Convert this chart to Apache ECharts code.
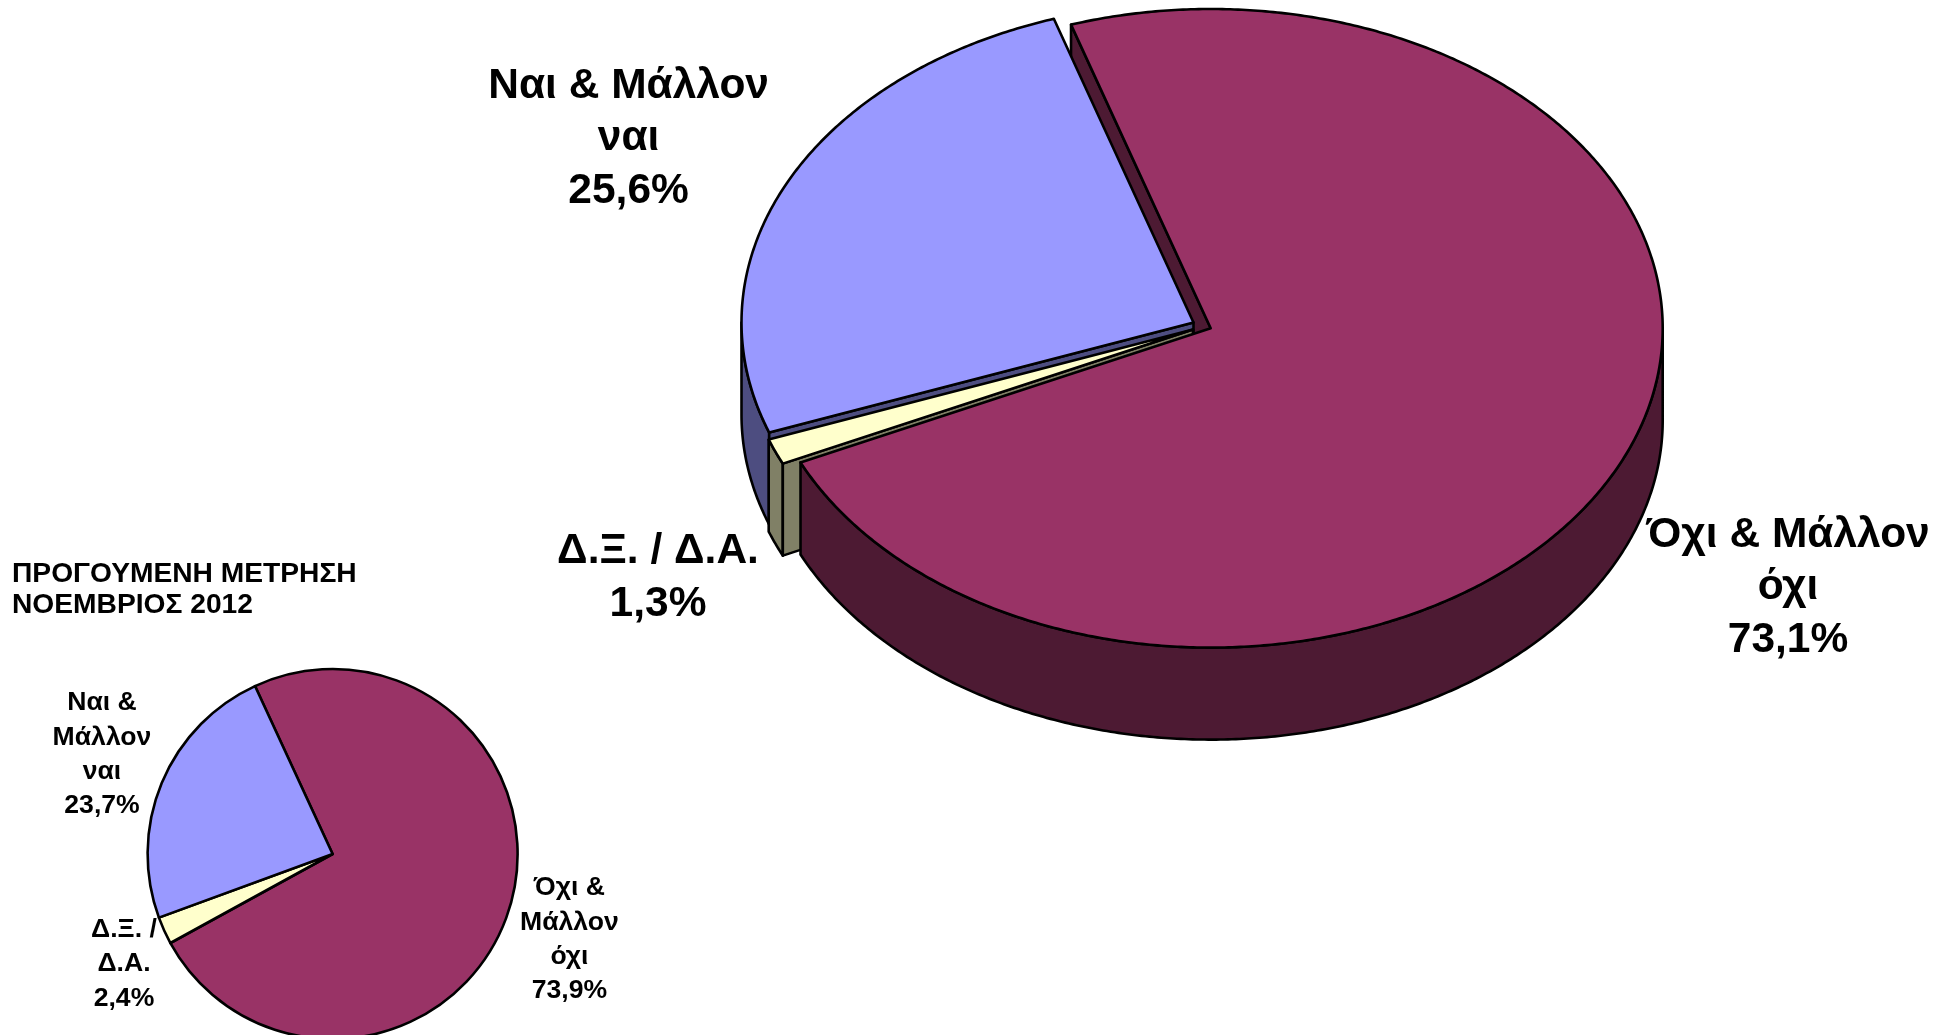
<!DOCTYPE html>
<html>
<head>
<meta charset="utf-8">
<title>Pie</title>
<style>html,body{margin:0;padding:0;background:#fff}#c{width:1948px;height:1035px}</style>
<script src="https://cdn.jsdelivr.net/npm/echarts@6/dist/echarts.min.js"></script>
</head>
<body>
<div id="c"></div>
<script>
// ---- data ----
const categories = ['Όχι & Μάλλον όχι', 'Δ.Ξ. / Δ.Α.', 'Ναι & Μάλλον ναι'];
const currentValues = [73.1, 1.3, 25.6];
const previousValues = [73.9, 2.4, 23.7];
const currentLabels = ['Όχι & Μάλλον\nόχι', 'Δ.Ξ. / Δ.Α.', 'Ναι & Μάλλον\nναι'];
const previousLabels = ['Όχι &\nΜάλλον\nόχι', 'Δ.Ξ. /\nΔ.Α.', 'Ναι &\nΜάλλον\nναι'];
const previousTitle = 'ΠΡΟΓΟΥΜΕΝΗ ΜΕΤΡΗΣΗ\nΝΟΕΜΒΡΙΟΣ 2012';

// ---- styling and layout ----
const FONT = '"Liberation Sans", Arial, sans-serif';
const topColors = ['#993366', '#FFFFCC', '#9999FF'];
const sideColors = ['#4D1A33', '#808066', '#4D4D80'];
const big = {
  rx: 452, ry: 319.3, depth: 92, startDeg: -18,
  centers: [[1210.7, 328.3], [1193, 329.5], [1193.5, 322.5]],
  labels: [[1788, 587.5], [658, 578], [628.6, 138.5]],
  fontSize: 42.5, lineHeight: 52.7
};
const small = {
  center: [332.6, 854], radius: 185, startAngle: 114.8,
  labels: [[569.4, 939.5], [124, 964], [102, 754.5]],
  fontSize: 26.6, lineHeight: 34.3
};

const fmt = v => v.toFixed(1).replace('.', ',') + '%';
const label = (names, values, i) => names[i] + '\n' + fmt(values[i]);
const rad = d => d * Math.PI / 180;

// slice angles, clockwise from the top, derived from the values
const total = currentValues.reduce((a, b) => a + b, 0);
const spans = [];
currentValues.reduce((from, v) => {
  const to = from + v / total * 360;
  spans.push([from, to]);
  return to;
}, big.startDeg);

function pt(s, deg, down) {
  const c = big.centers[s];
  return [c[0] + big.rx * Math.sin(rad(deg)), c[1] - big.ry * Math.cos(rad(deg)) + (down || 0)];
}
function arc(s, a, b, down) {
  const n = Math.max(2, Math.ceil(Math.abs(b - a) * 2));
  const out = [];
  for (let i = 0; i <= n; i++) out.push(pt(s, a + (b - a) * i / n, down));
  return out;
}
function partPoints(s, part) {
  const [a, b] = spans[s];
  const c = big.centers[s];
  if (part === 0) return [c].concat(arc(s, a, b));                       // top face
  if (part === 1) {                                                      // outer wall, front half only
    const from = Math.max(a, 90), to = Math.min(b, 270);
    return arc(s, from, to).concat(arc(s, from, to, big.depth).reverse());
  }
  const edge = part === 2 ? a : b;                                       // radial walls
  return [c, pt(s, edge), pt(s, edge, big.depth), [c[0], c[1] + big.depth]];
}

// painter's order: [slice, part]  (part 0 top, 1 outer wall, 2 wall at start edge)
const drawOrder = [
  [0, 2], [2, 1], [2, 2], [1, 1], [1, 2], [2, 0], [1, 0], [0, 1], [0, 0]
];

const chart = echarts.init(document.getElementById('c'), null, { renderer: 'canvas' });
chart.setOption({
  animation: false,
  backgroundColor: '#ffffff',
  series: [
    {
      type: 'custom',
      name: 'current',
      coordinateSystem: 'none',
      silent: true,
      data: drawOrder,
      renderItem(params, api) {
        const s = api.value(0), part = api.value(1);
        return {
          type: 'polygon',
          shape: { points: partPoints(s, part) },
          style: {
            fill: part === 0 ? topColors[s] : sideColors[s],
            stroke: '#000', lineWidth: 2.6, lineJoin: 'round'
          }
        };
      }
    },
    {
      type: 'pie',
      name: 'previous',
      silent: true,
      center: small.center,
      radius: small.radius,
      startAngle: small.startAngle,
      clockwise: true,
      avoidLabelOverlap: false,
      data: categories.map((name, i) => ({
        name, value: previousValues[i],
        itemStyle: { color: topColors[i] }
      })),
      itemStyle: { borderColor: '#000', borderWidth: 2.6 },
      label: {
        show: true, color: '#000', fontFamily: FONT, fontWeight: 'bold',
        fontSize: small.fontSize, lineHeight: small.lineHeight, align: 'center',
        formatter: p => label(previousLabels, previousValues, p.dataIndex)
      },
      labelLine: { show: false },
      labelLayout: p => ({
        x: small.labels[p.dataIndex][0], y: small.labels[p.dataIndex][1],
        align: 'center', verticalAlign: 'middle'
      })
    }
  ],
  graphic: categories.map((_, i) => ({
    type: 'text', x: big.labels[i][0], y: big.labels[i][1], silent: true,
    style: {
      text: label(currentLabels, currentValues, i), fill: '#000',
      fontFamily: FONT, fontWeight: 'bold', fontSize: big.fontSize,
      lineHeight: big.lineHeight, align: 'center', verticalAlign: 'middle'
    }
  })).concat([{
    type: 'text', x: 12, y: 589.5, silent: true,
    style: {
      text: previousTitle, fill: '#000', fontFamily: FONT, fontWeight: 'bold',
      fontSize: 28.2, lineHeight: 31, align: 'left', verticalAlign: 'middle'
    }
  }])
});
</script>
</body>
</html>
